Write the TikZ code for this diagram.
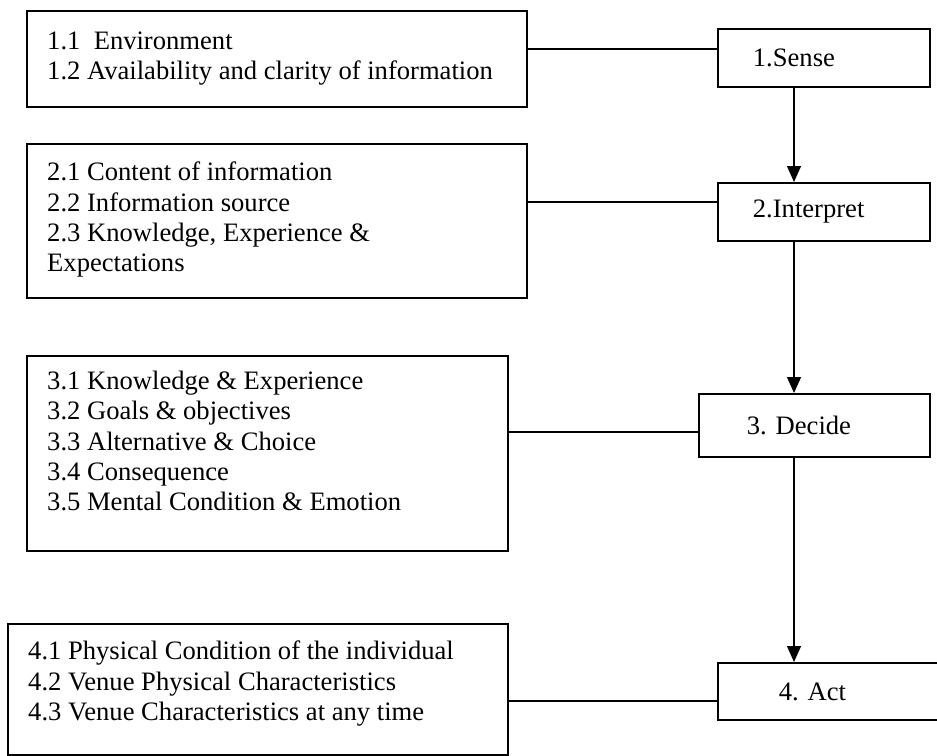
\documentclass[tikz,border=0pt]{standalone}
\usepackage{fontspec}
\setmainfont{Liberation Serif}
\usetikzlibrary{arrows.meta}
\frenchspacing
\begin{document}
\begin{tikzpicture}[x=1pt,y=-1pt,
  box/.style={draw, line width=1.8pt, anchor=north west, inner sep=0pt},
  txt/.style={anchor=north west, inner sep=0pt, align=left, font=\fontsize{26.6}{30.3}\selectfont},
  rbox/.style={draw, line width=1.8pt, anchor=north west, inner ysep=0pt, align=left, minimum height=58pt, font=\fontsize{26.6}{30.3}\selectfont},
  link/.style={line width=1.3pt},
  flow/.style={line width=1.3pt, -{Triangle[length=16pt,width=14pt]}}]
\useasboundingbox (0,0) rectangle (937,755);
\clip (0,0) rectangle (937,755);
\fill[white] (0,0) rectangle (937,755);

% left boxes
\node[box, minimum width=500pt, minimum height=96pt] (b1) at (26,10) {};
\node[box, minimum width=500pt, minimum height=154pt] (b2) at (26,143) {};
\node[box, minimum width=481pt, minimum height=195pt] (b3) at (26,355) {};
\node[box, minimum width=500pt, minimum height=131pt] (b4) at (7,623) {};

\node[txt] (t1) at (47,31) {\rule{0pt}{18pt}1.1\ \ Environment\\1.2 Availability and clarity of information};
\node[txt] (t2) at (47,162) {\rule{0pt}{18pt}2.1 Content of information\\2.2 Information source\\2.3 Knowledge, Experience \&\\Expectations};
\node[txt] (t3) at (47,371) {\rule{0pt}{18pt}3.1 Knowledge \& Experience\\3.2 Goals \& objectives\\3.3 Alternative \& Choice\\3.4 Consequence\\3.5 Mental Condition \& Emotion};
\node[txt] (t4) at (28,641) {\rule{0pt}{18pt}4.1 Physical Condition of the individual\\4.2 Venue Physical Characteristics\\4.3 Venue Characteristics at any time};

% right boxes
\node[rbox, inner xsep=35pt, text width=142pt] (sense) at (717,28) {1.Sense};
\node[rbox, inner xsep=35pt, text width=142pt] (interp) at (717,182) {2.Interpret};
\node[rbox, inner xsep=48pt, text width=135pt, minimum height=63pt] (decide) at (698,393) {3. Decide};
\node[rbox, inner xsep=61pt, text width=121pt, minimum height=57pt] (act) at (717,662) {4. Act};

% connectors
\draw[link] ([yshift=9pt]sense.west) -- ([yshift=9pt]sense.west -| b1.east);
\draw[link] ([yshift=10pt]interp.west) -- ([yshift=10pt]interp.west -| b2.east);
\draw[link] ([yshift=-6.5pt]decide.west) -- ([yshift=-6.5pt]decide.west -| b3.east);
\draw[link] ([yshift=-9.5pt]act.west) -- ([yshift=-9.5pt]act.west -| b4.east);

\coordinate (ax) at (794,0);
\draw[flow] (sense.south -| ax) -- (interp.north -| ax);
\draw[flow] (interp.south -| ax) -- (decide.north -| ax);
\draw[flow] (decide.south -| ax) -- (act.north -| ax);
\end{tikzpicture}
\end{document}
